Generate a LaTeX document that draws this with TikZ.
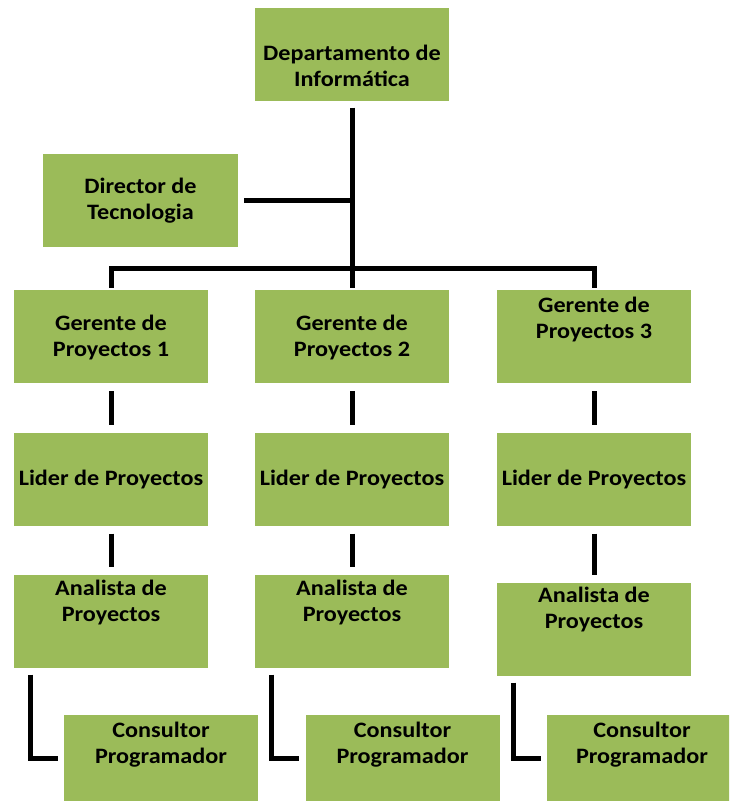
\documentclass[tikz,border=0pt]{standalone}
\usepackage{fontspec}
\setmainfont{Carlito}[FakeStretch=1.1]
\definecolor{boxgreen}{RGB}{155,187,89}

\begin{document}
\begin{tikzpicture}[x=1pt, y=-1pt,
    orgbox/.style={fill=boxgreen, minimum width=194pt, minimum height=93pt, inner sep=0pt},
    boxtext/.style={font=\fontsize{22}{26}\selectfont\bfseries, align=center},
    link/.style={line width=5pt, black}]
    \useasboundingbox (0,0) rectangle (729,801);
    \clip (0,0) rectangle (729,801);

    % Top level
    \node[orgbox] (dep) at (352,54) {};
    \node[boxtext] (deptxt) at (352,66) {Departamento de\\Informática};
    \node[orgbox, minimum width=195pt] (dir) at (140.5,200) {};
    \node[boxtext] (dirtxt) at (140.5,201) {Director de\\Tecnologia};

    % Project managers
    \node[orgbox] (ger1) at (111,336.5) {};
    \node[boxtext] (ger1txt) at (111,338) {Gerente de\\Proyectos 1};
    \node[orgbox] (ger2) at (352,336.5) {};
    \node[boxtext] (ger2txt) at (352,338) {Gerente de\\Proyectos 2};
    \node[orgbox] (ger3) at (594,336.5) {};
    \node[boxtext] (ger3txt) at (594,320) {Gerente de\\Proyectos 3};

    % Project leaders
    \node[orgbox] (lid1) at (111,479) {};
    \node[boxtext] (lid1txt) at (111,480) {Lider de Proyectos};
    \node[orgbox] (lid2) at (352,479) {};
    \node[boxtext] (lid2txt) at (352,480) {Lider de Proyectos};
    \node[orgbox] (lid3) at (594,479) {};
    \node[boxtext] (lid3txt) at (594,480) {Lider de Proyectos};

    % Analysts
    \node[orgbox] (ana1) at (111,621) {};
    \node[boxtext] (ana1txt) at (111,603) {Analista de\\Proyectos};
    \node[orgbox] (ana2) at (352,621) {};
    \node[boxtext] (ana2txt) at (352,603) {Analista de\\Proyectos};
    \node[orgbox] (ana3) at (594,629) {};
    \node[boxtext] (ana3txt) at (594,610) {Analista de\\Proyectos};

    % Consultants
    \node[orgbox, minimum height=86pt] (con1) at (161,758) {};
    \node[boxtext] (con1txt) at (161,745) {Consultor\\Programador};
    \node[orgbox, minimum height=86pt] (con2) at (402.5,758) {};
    \node[boxtext] (con2txt) at (402.5,745) {Consultor\\Programador};
    \node[orgbox, minimum height=86pt] (con3) at (644,758) {};
    \node[boxtext] (con3txt) at (642,745) {Consultor\\Programador};

    % Trunk and bus
    \coordinate (bus) at (352,268);
    \draw[link, shorten <=7pt] (dep.south) -- (bus);
    \draw[link, shorten <=6pt] (dir.east) -- (dir.east -| bus);
    \draw[link, shorten <=2pt, shorten >=2pt] (ger1.north) -- (ger1.north |- bus) -- (ger3.north |- bus) -- (ger3.north);
    \draw[link, shorten >=2pt] (bus) -- (ger2.north);

    % Columns
    \foreach \n in {1,2,3} {
        \draw[link, shorten <=8pt, shorten >=7pt] (ger\n) -- (lid\n);
        \draw[link, shorten <=8pt, shorten >=7pt] (lid\n) -- (ana\n);
        \draw[link, shorten <=7pt, shorten >=6pt] ([xshift=17pt]ana\n.south west) |- (con\n.west);
    }
\end{tikzpicture}
\end{document}
